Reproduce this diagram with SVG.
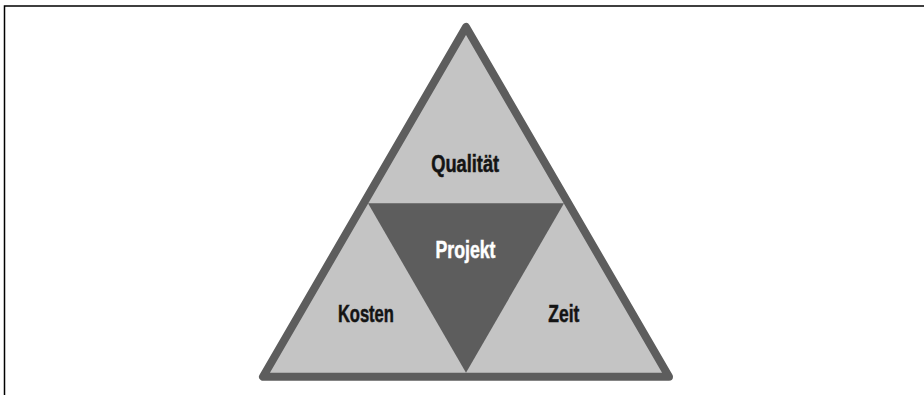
<svg xmlns="http://www.w3.org/2000/svg" width="924" height="395" viewBox="0 0 924 395">
  <style>
    .frame { fill: none; stroke: #000; stroke-width: 1.5; }
    .outer { fill: #c4c4c4; stroke: #5d5d5d; stroke-width: 8; stroke-linejoin: round; }
    .core { fill: #5d5d5d; }
    .label { font-family: "Liberation Sans", Arial, sans-serif; font-weight: bold; font-size: 23px; text-anchor: middle; fill: #141414; stroke: #141414; stroke-width: 0.5; }
    .label.light { fill: #ffffff; stroke: #ffffff; }
  </style>
  <rect width="924" height="395" fill="#ffffff"/>
  <!-- open frame: top and left edges only -->
  <path class="frame" d="M4.5 395 V6 H924"/>

  <g id="triangle">
    <polygon class="outer" points="466,27 263,376.7 669,376.7"/>
  </g>
  <g id="projekt">
    <polygon class="core" points="368,203.3 564,203.3 466,372.7"/>
    <text class="label light" x="465.5" y="257.5" textLength="60" lengthAdjust="spacingAndGlyphs">Projekt</text>
  </g>
  <g id="qualitaet">
    <text class="label" x="465.2" y="171.9" textLength="68" lengthAdjust="spacingAndGlyphs">Qualität</text>
  </g>
  <g id="kosten">
    <text class="label" x="365.9" y="321.9" textLength="56" lengthAdjust="spacingAndGlyphs">Kosten</text>
  </g>
  <g id="zeit">
    <text class="label" x="563.8" y="321.9" textLength="31" lengthAdjust="spacingAndGlyphs">Zeit</text>
  </g>
  <g id="connectors"/>
</svg>
